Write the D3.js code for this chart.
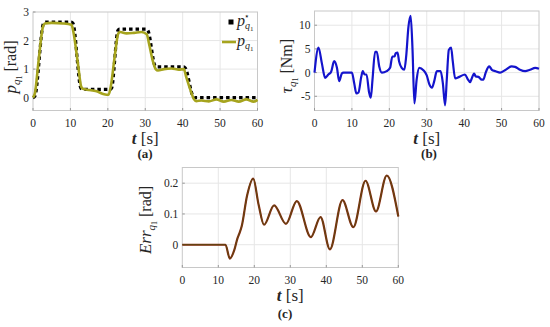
<!DOCTYPE html>
<html><head><meta charset="utf-8">
<script src="https://cdn.jsdelivr.net/npm/d3@7"></script>
<style>
body{margin:0;background:#fff}
svg{display:block}
svg text{font-family:'Liberation Serif','Times New Roman',Times,serif !important;fill:#262626}
</style>
</head><body>
<svg id="chart" width="550" height="327"></svg>
<script>
// ---------- data ----------
const xTicks = [0, 10, 20, 30, 40, 50, 60];
const yTicksA = [0, 1, 2, 3];
const yTicksB = [-5, 0, 5, 10];
const yTicksC = [0, 0.1, 0.2];

// (a) reference position p*
const refTime = [0, 0.5, 2.8, 3.3, 10.2, 10.7, 12.8, 13.3, 20.6, 21.0, 22.7, 23.1, 30.3, 30.7, 32.6, 33.0, 40.3, 40.7, 42.8, 43.2, 60];
const refVal  = [0, 0.05, 2.6, 2.65, 2.65, 2.6, 0.33, 0.29, 0.29, 0.33, 2.36, 2.4, 2.4, 2.36, 1.12, 1.08, 1.08, 1.04, 0.04, 0.0, 0.0];

// (a) actual position p
const posTime = [0, 0.5, 1.5, 2.6, 3.2, 5, 8, 10.3, 10.8, 12.0, 12.9, 13.5, 15, 17, 19, 20.2, 20.8, 21.8, 22.8, 23.3, 25, 27, 29, 30.4, 31.0, 32.0, 32.8, 33.4, 35, 37, 39, 40.3, 40.9, 42.0, 43.0, 43.6, 45, 47, 49, 51, 53, 55, 57, 59, 60];
const posVal  = [0, 0.15, 1.3, 2.45, 2.6, 2.62, 2.6, 2.55, 2.3, 1.2, 0.38, 0.3, 0.27, 0.22, 0.12, 0.1, 0.4, 1.4, 2.25, 2.3, 2.25, 2.27, 2.3, 2.22, 1.9, 1.3, 1.0, 0.95, 1.0, 1.02, 0.98, 1.0, 0.75, 0.3, -0.05, -0.12, -0.1, -0.13, -0.06, -0.14, -0.08, -0.14, -0.06, -0.14, -0.08];

// (b) torque
const tauTime = [0, 1.07, 1.96, 2.85, 3.7, 4.45, 5.25, 6.0, 6.6, 7.3, 7.75, 10.0, 10.6, 11.2, 11.75, 12.5, 12.9, 13.4, 13.9, 14.6, 15.05, 15.5, 16.2, 16.65, 17.3, 18.0, 19.3, 20.2, 20.8, 21.4, 21.7, 22.2, 22.6, 23.3, 24.0, 24.5, 25.1, 25.7, 26.2, 26.7, 27.3, 28.0, 29.1, 30.0, 30.7, 31.4, 32.0, 32.7, 33.7, 34.3, 34.9, 35.35, 35.9, 36.5, 36.95, 37.6, 38.7, 40.2, 40.9, 41.6, 42.0, 42.65, 43.1, 43.8, 44.7, 45.1, 45.8, 46.7, 47.4, 48.4, 49.6, 50.9, 52.7, 53.6, 54.9, 56.3, 57.6, 59.0, 60.0];
const tauVal  = [0, 5.3, 2.0, -1.1, -0.4, 0.2, 2.4, 1.0, -1.8, -0.2, 0, 0, -2.2, -4.4, -4.2, -0.9, 0.3, -0.4, -0.4, -4.2, -5.3, -1.5, 4.4, 4.4, 1.3, 0, 0.3, 1.0, 3.4, 3.4, 4.1, 4.2, 2.4, 1.0, 0.6, 3.4, 9.6, 12.0, 4.8, -6.5, -1.5, 1.0, 0.5, -0.6, -2.5, -3.2, -1.8, 0.3, 0.3, -2.2, -6.9, -1.5, 4.8, 5.3, 2.4, -1.25, -0.9, -0.4, -1.3, -2.0, -1.3, -0.2, -0.8, -0.9, -1.5, -1.5, 0.1, 1.3, 0.6, 0.3, 0, 0.5, 1.3, 1.2, 0.6, 0.3, 0.6, 1.0, 0.8];

// (c) tracking error
const errTime = [0, 12, 13.2, 14.5, 15.3, 15.8, 16.5, 18, 19.7, 21.2, 22.7, 25.5, 28.8, 31.8, 35.7, 38.4, 41, 44.5, 47.5, 50.9, 53.8, 56.8, 60];
const errVal  = [0, 0, -0.045, -0.015, 0.02, 0.035, 0.06, 0.16, 0.215, 0.13, 0.065, 0.128, 0.068, 0.142, 0.025, 0.09, -0.015, 0.145, 0.057, 0.208, 0.108, 0.225, 0.092];

// ---------- drawing ----------
const svg = d3.select("#chart");
const zip = (a, b) => a.map((t, i) => [t, b[i]]);

function makePanel(o) {
  const x = d3.scaleLinear().domain([0, 60]).range([o.l, o.r]);
  const y = d3.scaleLinear().domain(o.yDom).range([o.b, o.t]);
  const g = svg.append("g");
  g.selectAll(".gx").data(xTicks.slice(1, -1)).join("line")
    .attr("x1", d => x(d)).attr("x2", d => x(d)).attr("y1", o.t).attr("y2", o.b)
    .attr("stroke", "#e6e6e6").attr("stroke-width", 1);
  g.selectAll(".gy").data(o.yTicks.filter(d => y(d) > o.t + 1 && y(d) < o.b - 1)).join("line")
    .attr("x1", o.l).attr("x2", o.r).attr("y1", d => y(d)).attr("y2", d => y(d))
    .attr("stroke", "#e6e6e6").attr("stroke-width", 1);
  g.append("rect").attr("x", o.l).attr("y", o.t).attr("width", o.r - o.l).attr("height", o.b - o.t)
    .attr("fill", "none").attr("stroke", "#c8c8c8").attr("stroke-width", 1);
  g.selectAll(".tx").data(xTicks).join("line")
    .attr("x1", d => x(d)).attr("x2", d => x(d)).attr("y1", o.b).attr("y2", o.b - 2.5)
    .attr("stroke", "#999");
  g.selectAll(".ty").data(o.yTicks).join("line")
    .attr("x1", o.l).attr("x2", o.l + 2.5).attr("y1", d => y(d)).attr("y2", d => y(d))
    .attr("stroke", "#999");
  g.selectAll(".lx").data(xTicks).join("text")
    .attr("x", d => x(d)).attr("y", o.b + 16).attr("text-anchor", "middle")
    .attr("font-size", 11.5).text(d => d);
  g.selectAll(".ly").data(o.yTicks).join("text")
    .attr("x", o.l - 4).attr("y", d => y(d) + 4).attr("text-anchor", "end")
    .attr("font-size", 11.5).text(d => o.fmt ? o.fmt(d) : d);
  const xl = g.append("text").attr("x", (o.l + o.r) / 2).attr("y", o.b + 33)
    .attr("text-anchor", "middle").attr("font-size", 17);
  xl.append("tspan").attr("font-style", "italic").attr("font-weight", "bold").text("t");
  xl.append("tspan").text(" [s]");
  g.append("text").attr("x", o.capX).attr("y", o.capY).attr("text-anchor", "middle")
    .attr("font-size", 13).attr("font-weight", "bold").text(o.cap);
  return {x, y, g};
}

function yLabel(px, py, main, rest) {
  const t = svg.append("text").attr("transform", `translate(${px},${py}) rotate(-90)`)
    .attr("text-anchor", "middle").attr("font-size", 17);
  t.append("tspan").attr("font-style", "italic").text(main);
  t.append("tspan").attr("font-style", "italic").attr("font-size", 11).attr("dy", 4).text("q");
  t.append("tspan").attr("font-size", 8).attr("dy", 2).text("1");
  t.append("tspan").attr("font-size", 16).attr("dy", -6).text(" [" + rest + "]");
}

// panel (a)
const A = makePanel({l: 33, r: 257.5, t: 12, b: 110.5, yDom: [-0.45, 3], yTicks: yTicksA,
  cap: "(a)", capX: 145, capY: 158});
A.g.append("path").datum(zip(refTime, refVal))
  .attr("d", d3.line().x(d => A.x(d[0])).y(d => A.y(d[1])).curve(d3.curveMonotoneX))
  .attr("fill", "none").attr("stroke", "#000").attr("stroke-width", 3.2).attr("stroke-dasharray", "3.5,3");
A.g.append("path").datum(zip(posTime, posVal))
  .attr("d", d3.line().x(d => A.x(d[0])).y(d => A.y(d[1])).curve(d3.curveMonotoneX))
  .attr("fill", "none").attr("stroke", "#a6a41e").attr("stroke-width", 2.6);
// legend
A.g.append("rect").attr("x", 228.5).attr("y", 19.5).attr("width", 5).attr("height", 5).attr("fill", "#000");
const l1 = A.g.append("text").attr("x", 237).attr("y", 26).attr("font-size", 16);
l1.append("tspan").attr("font-style", "italic").text("p");
l1.append("tspan").attr("font-size", 9).attr("dy", -7).attr("dx", -1).text("⋆");
l1.append("tspan").attr("font-style", "italic").attr("font-size", 10).attr("dy", 10).attr("dx", -5).text("q");
l1.append("tspan").attr("font-size", 7).attr("dy", 2).text("1");
A.g.append("line").attr("x1", 222).attr("x2", 236).attr("y1", 42).attr("y2", 42)
  .attr("stroke", "#a6a41e").attr("stroke-width", 2.6);
const l2 = A.g.append("text").attr("x", 237).attr("y", 46).attr("font-size", 16);
l2.append("tspan").attr("font-style", "italic").text("p");
l2.append("tspan").attr("font-style", "italic").attr("font-size", 10).attr("dy", 3).text("q");
l2.append("tspan").attr("font-size", 7).attr("dy", 2).text("1");
yLabel(16, 67, "p", "rad");

// panel (b)
const B = makePanel({l: 314.5, r: 539, t: 11, b: 110.5, yDom: [-8, 13], yTicks: yTicksB,
  cap: "(b)", capX: 429, capY: 158});
B.g.append("path").datum(zip(tauTime, tauVal))
  .attr("d", d3.line().x(d => B.x(d[0])).y(d => B.y(d[1])).curve(d3.curveMonotoneX))
  .attr("fill", "none").attr("stroke", "#1414cc").attr("stroke-width", 2.2);
yLabel(292, 66, "τ", "Nm");

// panel (c)
const C = makePanel({l: 182.3, r: 398.3, t: 167.5, b: 267.5, yDom: [-0.074, 0.251], yTicks: yTicksC,
  fmt: d3.format(".1~f"), cap: "(c)", capX: 285, capY: 318});
C.g.append("path").datum(zip(errTime, errVal))
  .attr("d", d3.line().x(d => C.x(d[0])).y(d => C.y(d[1])).curve(d3.curveMonotoneX))
  .attr("fill", "none").attr("stroke", "#8a2a12").attr("stroke-width", 2.2);
C.g.append("path").datum(zip(errTime, errVal))
  .attr("d", d3.line().x(d => C.x(d[0])).y(d => C.y(d[1])).curve(d3.curveMonotoneX))
  .attr("fill", "none").attr("stroke", "#5a4a10").attr("stroke-width", 1);
const ec = svg.append("text").attr("transform", "translate(151,220) rotate(-90)")
  .attr("text-anchor", "middle").attr("font-size", 17);
ec.append("tspan").attr("font-style", "italic").text("Err");
ec.append("tspan").attr("font-style", "italic").attr("font-size", 11).attr("dy", 4).text("q");
ec.append("tspan").attr("font-size", 8).attr("dy", 2).text("1");
ec.append("tspan").attr("font-size", 16).attr("dy", -6).text(" [rad]");
</script>
</body></html>
